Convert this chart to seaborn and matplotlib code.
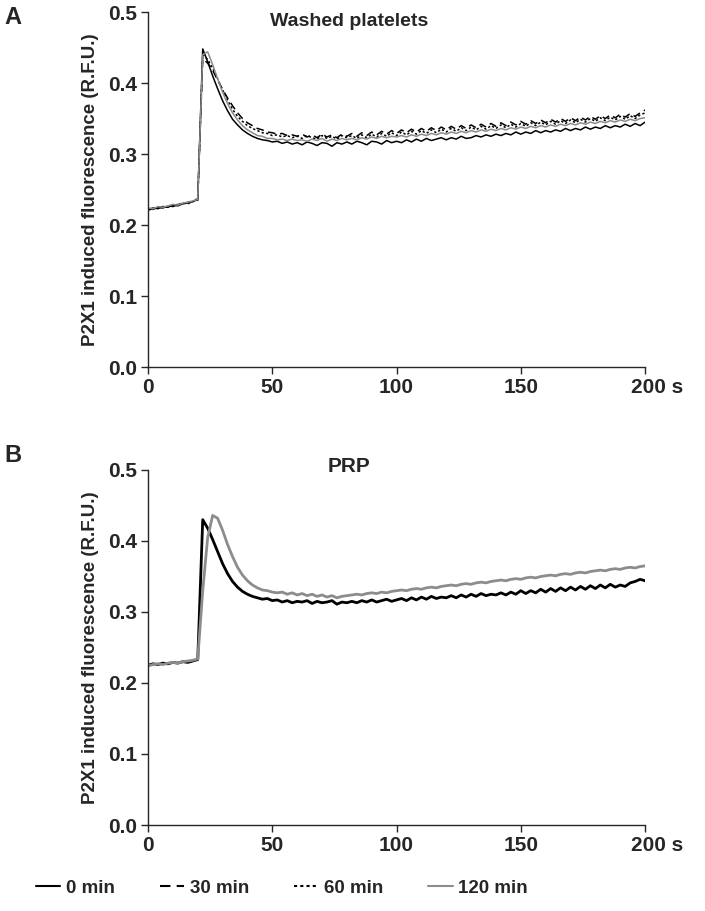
import matplotlib
matplotlib.use("Agg")
import matplotlib.pyplot as plt
import matplotlib.transforms as mtransforms
from matplotlib.lines import Line2D
import numpy as np
import seaborn as sns

# sampling grid, seconds
time_s = np.arange(0, 201, 2)

# Washed platelets
wp_0 = [0.222, 0.224, 0.223, 0.226, 0.225, 0.228, 0.227, 0.230, 0.231, 0.233, 0.236,
        0.448, 0.430, 0.410, 0.392, 0.375, 0.361, 0.349, 0.341, 0.334, 0.329,
        0.325, 0.322, 0.320, 0.319, 0.317, 0.318, 0.315, 0.317, 0.314, 0.316,
        0.313, 0.317, 0.315, 0.312, 0.316, 0.315, 0.311, 0.316, 0.314, 0.317,
        0.314, 0.318, 0.316, 0.313, 0.318, 0.317, 0.314, 0.319, 0.316, 0.318,
        0.316, 0.320, 0.317, 0.321, 0.318, 0.322, 0.319, 0.321, 0.323, 0.320,
        0.323, 0.321, 0.325, 0.322, 0.323, 0.326, 0.324, 0.327, 0.325, 0.328,
        0.326, 0.329, 0.327, 0.331, 0.328, 0.331, 0.329, 0.333, 0.330, 0.333,
        0.331, 0.334, 0.332, 0.336, 0.333, 0.336, 0.334, 0.338, 0.335, 0.338,
        0.336, 0.340, 0.337, 0.340, 0.338, 0.342, 0.339, 0.343, 0.340, 0.345]
wp_30 = [0.221, 0.223, 0.225, 0.224, 0.227, 0.226, 0.229, 0.230, 0.232, 0.234, 0.237,
         0.434, 0.428, 0.418, 0.404, 0.391, 0.379, 0.368, 0.358, 0.350, 0.344,
         0.340, 0.336, 0.334, 0.331, 0.330, 0.328, 0.329, 0.326, 0.327, 0.325,
         0.328, 0.324, 0.327, 0.323, 0.328, 0.324, 0.327, 0.323, 0.328, 0.325,
         0.329, 0.325, 0.330, 0.326, 0.331, 0.327, 0.332, 0.328, 0.333, 0.329,
         0.334, 0.330, 0.335, 0.331, 0.336, 0.332, 0.337, 0.333, 0.338, 0.334,
         0.339, 0.335, 0.340, 0.336, 0.341, 0.337, 0.342, 0.338, 0.343, 0.339,
         0.344, 0.340, 0.345, 0.341, 0.346, 0.342, 0.347, 0.343, 0.348, 0.344,
         0.349, 0.345, 0.350, 0.346, 0.351, 0.347, 0.352, 0.348, 0.353, 0.349,
         0.354, 0.350, 0.355, 0.351, 0.356, 0.352, 0.357, 0.353, 0.358, 0.362]
wp_60 = [0.223, 0.222, 0.225, 0.226, 0.225, 0.228, 0.229, 0.231, 0.230, 0.233, 0.235,
         0.440, 0.433, 0.421, 0.406, 0.390, 0.376, 0.363, 0.353, 0.346, 0.340,
         0.336, 0.333, 0.330, 0.329, 0.326, 0.327, 0.324, 0.326, 0.323, 0.325,
         0.322, 0.326, 0.323, 0.321, 0.326, 0.322, 0.325, 0.321, 0.326, 0.323,
         0.326, 0.322, 0.327, 0.323, 0.328, 0.324, 0.329, 0.325, 0.330, 0.326,
         0.331, 0.327, 0.332, 0.328, 0.333, 0.329, 0.334, 0.330, 0.335, 0.331,
         0.336, 0.332, 0.337, 0.333, 0.338, 0.334, 0.339, 0.335, 0.340, 0.336,
         0.341, 0.337, 0.342, 0.338, 0.343, 0.339, 0.344, 0.340, 0.345, 0.341,
         0.346, 0.342, 0.347, 0.343, 0.348, 0.344, 0.349, 0.345, 0.350, 0.346,
         0.351, 0.347, 0.352, 0.348, 0.353, 0.349, 0.354, 0.350, 0.355, 0.358]
wp_120 = [0.224, 0.223, 0.226, 0.225, 0.227, 0.229, 0.228, 0.231, 0.232, 0.234, 0.236,
          0.440, 0.444, 0.426, 0.406, 0.387, 0.371, 0.358, 0.348, 0.340, 0.334,
          0.330, 0.326, 0.325, 0.322, 0.322, 0.320, 0.321, 0.319, 0.321, 0.319,
          0.320, 0.318, 0.321, 0.319, 0.322, 0.318, 0.321, 0.319, 0.322, 0.320,
          0.322, 0.320, 0.323, 0.321, 0.324, 0.322, 0.325, 0.323, 0.325, 0.324,
          0.326, 0.324, 0.327, 0.325, 0.328, 0.326, 0.329, 0.327, 0.330, 0.328,
          0.331, 0.329, 0.332, 0.330, 0.333, 0.331, 0.334, 0.332, 0.335, 0.333,
          0.336, 0.334, 0.337, 0.335, 0.338, 0.336, 0.339, 0.337, 0.340, 0.338,
          0.341, 0.339, 0.342, 0.340, 0.343, 0.341, 0.344, 0.342, 0.345, 0.343,
          0.346, 0.344, 0.347, 0.345, 0.348, 0.346, 0.349, 0.347, 0.350, 0.351]

# PRP
prp_0 = [0.225, 0.227, 0.226, 0.228, 0.227, 0.229, 0.228, 0.230, 0.229, 0.231, 0.233,
         0.430, 0.418, 0.402, 0.385, 0.368, 0.354, 0.343, 0.335, 0.329, 0.325,
         0.322, 0.320, 0.318, 0.319, 0.316, 0.317, 0.314, 0.316, 0.313, 0.315,
         0.314, 0.316, 0.312, 0.315, 0.313, 0.314, 0.316, 0.311, 0.314, 0.313,
         0.315, 0.313, 0.316, 0.314, 0.317, 0.314, 0.316, 0.318, 0.315, 0.317,
         0.319, 0.316, 0.320, 0.317, 0.321, 0.318, 0.322, 0.319, 0.321, 0.320,
         0.323, 0.320, 0.324, 0.321, 0.325, 0.322, 0.326, 0.323, 0.325, 0.324,
         0.327, 0.324, 0.328, 0.325, 0.330, 0.326, 0.330, 0.327, 0.332, 0.328,
         0.333, 0.329, 0.334, 0.330, 0.335, 0.331, 0.336, 0.332, 0.337, 0.333,
         0.338, 0.334, 0.339, 0.335, 0.338, 0.336, 0.341, 0.343, 0.346, 0.344]
prp_120 = [0.224, 0.226, 0.227, 0.226, 0.228, 0.229, 0.228, 0.230, 0.231, 0.232, 0.234,
           0.330, 0.405, 0.436, 0.432, 0.415, 0.395, 0.378, 0.363, 0.352, 0.344,
           0.338, 0.334, 0.331, 0.330, 0.328, 0.327, 0.328, 0.325, 0.327, 0.324,
           0.326, 0.323, 0.325, 0.322, 0.324, 0.321, 0.323, 0.320, 0.322, 0.323,
           0.324, 0.325, 0.324, 0.326, 0.327, 0.326, 0.328, 0.327, 0.329, 0.330,
           0.331, 0.330, 0.332, 0.333, 0.332, 0.334, 0.335, 0.334, 0.336, 0.337,
           0.338, 0.337, 0.339, 0.340, 0.339, 0.341, 0.342, 0.341, 0.343, 0.344,
           0.345, 0.344, 0.346, 0.347, 0.346, 0.348, 0.349, 0.348, 0.350, 0.351,
           0.352, 0.351, 0.353, 0.354, 0.353, 0.355, 0.356, 0.355, 0.357, 0.358,
           0.359, 0.358, 0.360, 0.361, 0.360, 0.362, 0.363, 0.362, 0.364, 0.365]

x_ticks = [0, 50, 100, 150, 200]
x_ticklabels = ["0", "50", "100", "150", "200 s"]
y_ticks = [0.0, 0.1, 0.2, 0.3, 0.4, 0.5]

sns.set_style("ticks")
plt.rcParams["font.family"] = ["Liberation Sans", "DejaVu Sans"]
plt.rcParams["font.weight"] = "bold"

fig = plt.figure(figsize=(7.05, 9.11), dpi=100)
ax_a = fig.add_axes([0.210, 0.5971, 0.705, 0.3897])
ax_b = fig.add_axes([0.210, 0.0944, 0.705, 0.3897])

styles = {
    "0 min": dict(color="black", linestyle="-"),
    "30 min": dict(color="black", linestyle=(0, (5, 3))),
    "60 min": dict(color="black", linestyle=(0, (1.5, 1.5))),
    "120 min": dict(color="#8c8c8c", linestyle="-"),
}

for name, vals in [("0 min", wp_0), ("30 min", wp_30), ("60 min", wp_60), ("120 min", wp_120)]:
    sns.lineplot(x=time_s, y=vals, ax=ax_a, linewidth=1.1, **styles[name])

sns.lineplot(x=time_s, y=prp_0, ax=ax_b, linewidth=2.0, **styles["0 min"])
sns.lineplot(x=time_s, y=prp_120, ax=ax_b, linewidth=2.0, **styles["120 min"])

titles = [(ax_a, "Washed platelets", 0.480, 14), (ax_b, "PRP", 0.497, 15)]
for ax, title, ty, tsize in titles:
    ax.set_xlim(0, 200)
    ax.set_ylim(0, 0.5)
    ax.set_xticks(x_ticks)
    ax.set_xticklabels(x_ticklabels)
    ax.set_yticks(y_ticks)
    ax.set_yticklabels([f"{v:.1f}" for v in y_ticks])
    ax.tick_params(labelsize=15, length=5, width=1, pad=3)
    for lab in ax.get_xticklabels() + ax.get_yticklabels():
        lab.set_fontweight("bold")
    # keep "200" under its tick, with " s" trailing
    last = ax.get_xticklabels()[-1]
    last.set_transform(last.get_transform() + mtransforms.ScaledTranslation(0.12, 0, fig.dpi_scale_trans))
    sns.despine(ax=ax)
    for sp in ax.spines.values():
        sp.set_linewidth(1.0)
    ax.set_ylabel("P2X1 induced fluorescence (R.F.U.)", fontsize=13.5, fontweight="bold", labelpad=6)
    ax.set_xlabel("")
    ax.text(81, ty, title, ha="center", va="baseline", fontsize=tsize, fontweight="bold")

fig.text(0.006, 0.981, "A", ha="left", va="center", fontsize=17, fontweight="bold")
fig.text(0.006, 0.5005, "B", ha="left", va="center", fontsize=17, fontweight="bold")

handles = [Line2D([], [], linewidth=1.5, **styles[k]) for k in styles]
fig.legend(handles, list(styles.keys()), loc="center", bbox_to_anchor=(0.40, 0.025),
           ncol=4, frameon=False, handlelength=1.3, handletextpad=0.3,
           columnspacing=2.4, prop=dict(size=13.5, weight="bold"))

fig.savefig("out.png", dpi=100)
